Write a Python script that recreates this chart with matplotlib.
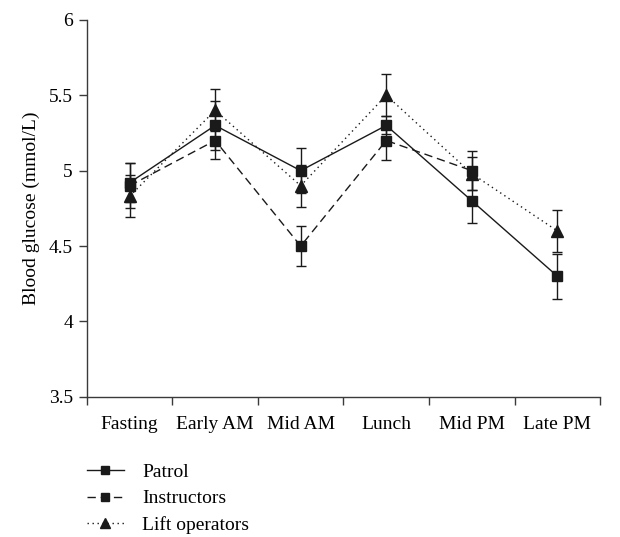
import numpy as np
from matplotlib import pyplot as plt
from matplotlib.lines import Line2D

plt.rcParams['font.family'] = ['Liberation Serif', 'DejaVu Serif']

times = ["Fasting", "Early AM", "Mid AM", "Lunch", "Mid PM", "Late PM"]

patrol = [4.92, 5.30, 5.00, 5.30, 4.80, 4.30]
patrol_err = [0.13, 0.16, 0.15, 0.06, 0.15, 0.15]

instructors = [4.90, 5.20, 4.50, 5.20, 5.00, np.nan]
instructors_err = [0.15, 0.12, 0.13, 0.13, 0.13, np.nan]

lift_ops = [4.83, 5.40, 4.90, 5.50, 4.98, 4.60]
lift_ops_err = [0.14, 0.14, 0.14, 0.14, 0.11, 0.14]

axis_color = "#3a3a3a"
ink = "#1a1a1a"
fs = 14

fig = plt.figure(figsize=(6.2, 5.37), dpi=100)
ax = fig.add_axes([0.140, 0.261, 0.828, 0.702])

xs = np.arange(len(times)) + 0.5

series = [
    ("Patrol", patrol, patrol_err, "-", "s", 7.5),
    ("Instructors", instructors, instructors_err, (0, (6, 3.5)), "s", 7.5),
    ("Lift operators", lift_ops, lift_ops_err, (0, (1, 2.6)), "^", 8),
]
handles = []
for name, ys, err, ls, mk, ms in series:
    ax.errorbar(xs, ys, yerr=err, color=ink, linestyle=ls, linewidth=1,
                marker=mk, markersize=ms, markerfacecolor=ink,
                markeredgecolor=ink, ecolor=ink, elinewidth=1,
                capsize=3.6, capthick=1)
    handles.append(Line2D([], [], color=ink, linestyle=ls, linewidth=1,
                          marker=mk, markersize=ms - 1.5, label=name))

ax.set_xlim(0, len(times))
ax.set_ylim(3.5, 6)
ax.set_yticks([3.5, 4, 4.5, 5, 5.5, 6])
ax.set_yticklabels(["3.5", "4", "4.5", "5", "5.5", "6"])

# category axis: tick marks between groups, labels centred under each group
ax.set_xticks(np.arange(len(times) + 1))
ax.set_xticklabels([])
ax.set_xticks(xs, minor=True)
ax.set_xticklabels(times, minor=True)
ax.tick_params(axis="x", which="minor", length=0, pad=14, labelsize=fs)
ax.tick_params(axis="x", which="major", direction="out", length=6,
               color=axis_color, width=1)
ax.tick_params(axis="y", direction="out", length=6, color=axis_color,
               width=1, labelsize=fs, pad=4)

for side in ["top", "right"]:
    ax.spines[side].set_visible(False)
for side in ["left", "bottom"]:
    ax.spines[side].set_color(axis_color)
    ax.spines[side].set_linewidth(1)

ax.set_ylabel("Blood glucose (mmol/L)", fontsize=fs, labelpad=6)

fig.legend(handles=handles, loc="upper left", bbox_to_anchor=(0.14, 0.137),
           frameon=False, fontsize=fs, handlelength=1.9, handletextpad=0.95,
           labelspacing=0.45, borderpad=0, borderaxespad=0)

plt.savefig("out.png", dpi=100)
